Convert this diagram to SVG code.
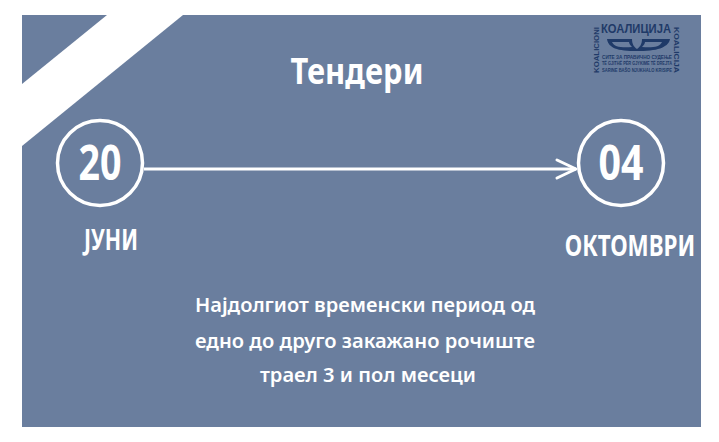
<svg xmlns="http://www.w3.org/2000/svg" width="719" height="442" viewBox="0 0 719 442">
<style>
text{font-family:"Noto Sans","Open Sans","DejaVu Sans",sans-serif;fill:#fff;font-weight:700;text-anchor:middle}
.c{fill:none;stroke:#fff;stroke-width:3.5}
.b{font-size:20px;font-weight:600}
.l{font-family:"Liberation Sans",sans-serif;fill:#1f3a68;font-weight:700}
</style>
<rect width="719" height="442" fill="#fff"/>
<rect x="22" y="15" width="679" height="412" fill="#6a7e9e"/>
<polygon points="107,15 183,15 22,146 22,84" fill="#fff"/>
<g id="connectors" fill="none" stroke="#fff" stroke-width="3">
<path d="M144 169H576"/>
<path d="M557 160L576 169L557 178" stroke-linecap="round" stroke-linejoin="round"/>
</g>
<g id="title"><text x="357" y="84" font-size="36" textLength="133" lengthAdjust="spacingAndGlyphs">Тендери</text></g>
<g id="node-20"><circle class="c" cx="100" cy="163" r="42.5"/><text x="100" y="180" font-size="49" textLength="43" lengthAdjust="spacingAndGlyphs">20</text><text font-size="28" transform="translate(111,250) scale(.76,1)">ЈУНИ</text></g>
<g id="node-04"><circle class="c" cx="621" cy="163" r="42.5"/><text x="621" y="180" font-size="49" textLength="45" lengthAdjust="spacingAndGlyphs">04</text><text font-size="28" transform="translate(630,256) scale(.8,1)">ОКТОМВРИ</text></g>
<g id="caption">
<text class="b" x="365" y="312" textLength="340" lengthAdjust="spacingAndGlyphs">Најдолгиот временски период од</text>
<text class="b" x="365" y="348" textLength="340" lengthAdjust="spacingAndGlyphs">едно до друго закажано рочиште</text>
<text class="b" x="368" y="382" textLength="216" lengthAdjust="spacingAndGlyphs">траел 3 и пол месеци</text>
</g>
<g id="logo">
<text class="l" x="636" y="33" font-size="12" textLength="70" lengthAdjust="spacingAndGlyphs">КОАЛИЦИЈА</text>
<text class="l" font-size="8" transform="translate(599,50) rotate(-90)" textLength="46" lengthAdjust="spacingAndGlyphs">KOALICIONI</text>
<text class="l" font-size="8" transform="translate(674,50) rotate(90)" textLength="46" lengthAdjust="spacingAndGlyphs">KOALICIJA</text>
<path d="M607 39H632C632 44 634 47 637 49C640 47 642 44 642 39H670C669 46 660 51 640 51H634C614 51 608 46 607 39ZM612 42C614 47 622 48 632 47C630 45 629 43 629 42ZM662 42H645C645 43 644 45 642 47C652 48 660 47 662 42Z" fill="#1f3a68" fill-rule="evenodd"/>
<text class="l" x="637" y="58.5" font-size="6.2" textLength="70" lengthAdjust="spacingAndGlyphs">СИТЕ ЗА ПРАВИЧНО СУДЕЊЕ</text>
<text class="l" x="637" y="65" font-size="6.2" textLength="70" lengthAdjust="spacingAndGlyphs">TË GJITHË PËR GJYKIME TË DREJTA</text>
<text class="l" x="637" y="71.5" font-size="6.2" textLength="70" lengthAdjust="spacingAndGlyphs">SARINE BAŠO NJUKHALO KRISIPE</text>
</g>
</svg>
